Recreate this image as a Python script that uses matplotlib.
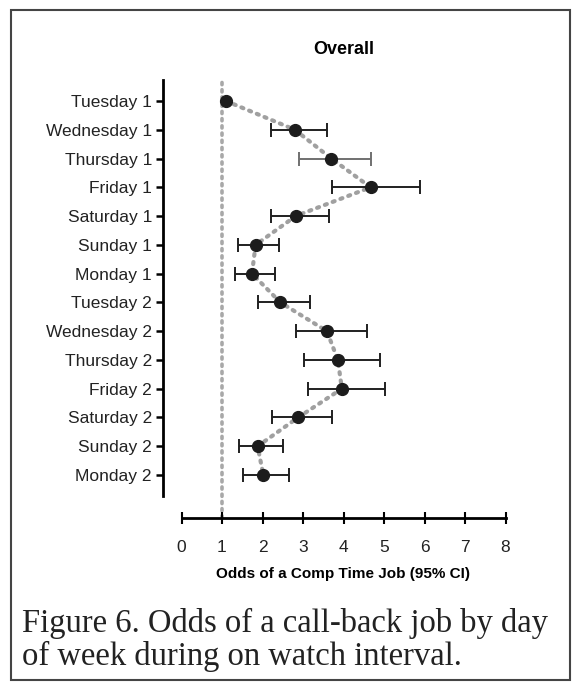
import matplotlib.pyplot as plt
from matplotlib.patches import Rectangle

days = ["Tuesday 1", "Wednesday 1", "Thursday 1", "Friday 1", "Saturday 1",
        "Sunday 1", "Monday 1", "Tuesday 2", "Wednesday 2", "Thursday 2",
        "Friday 2", "Saturday 2", "Sunday 2", "Monday 2"]
odds = [1.10, 2.80, 3.70, 4.67, 2.82, 1.83, 1.74,
        2.44, 3.59, 3.86, 3.96, 2.88, 1.88, 2.02]
ci_low = [1.10, 2.20, 2.91, 3.72, 2.20, 1.40, 1.32,
          1.90, 2.82, 3.03, 3.12, 2.24, 1.42, 1.52]
ci_high = [1.10, 3.59, 4.69, 5.90, 3.63, 2.41, 2.31,
           3.18, 4.58, 4.89, 5.03, 3.72, 2.51, 2.66]
xticks = [0, 1, 2, 3, 4, 5, 6, 7, 8]

W, H = 578, 683
fig = plt.figure(figsize=(W / 100, H / 100), dpi=100)
plt.rcParams['font.family'] = ['Liberation Sans', 'DejaVu Sans']

# axes placed in pixel terms to match the scan
x0_px, unit_px = 181.5, 40.5
left_px, top_px, bottom_px = 163, 80, 518
xmin = -(x0_px - left_px) / unit_px
xmax = 8.35
ax = fig.add_axes([left_px / W, (H - bottom_px) / H,
                   (xmax - xmin) * unit_px / W, (bottom_px - top_px) / H])

ypos = list(range(len(days)))

# reference line at odds = 1
ax.axvline(1, color='#a8a8a8', lw=2.6, ls=(0, (0.6, 1.4)),
           dash_capstyle='round', zorder=1)
# dotted path through the estimates
ax.plot(odds, ypos, color='#a0a0a0', lw=3, ls=(0, (0.5, 1.5)),
        dash_capstyle='round', zorder=2)

for i in range(len(days)):
    if ci_high[i] - ci_low[i] <= 0:
        continue
    c = '#707070' if days[i] == "Thursday 1" else '#202020'
    ax.errorbar(odds[i], ypos[i],
                xerr=[[odds[i] - ci_low[i]], [ci_high[i] - odds[i]]],
                fmt='none', ecolor=c, elinewidth=1.4, capsize=5,
                capthick=1.4, zorder=3)
ax.plot(odds, ypos, 'o', color='#1c1c1c', ms=8.5, zorder=4)

step = (475 - 101) / 13
ytop = -(101 - top_px) / step
ybot = 13 + (bottom_px - 475) / step
ax.set_ylim(ybot, ytop)
ax.set_xlim(xmin, xmax)

ax.set_yticks(ypos)
ax.set_yticklabels(days, fontsize=12.5, color='#222222')
ax.set_xticks(xticks)
ax.set_xticklabels([str(t) for t in xticks], fontsize=12.5, color='#222222')
ax.tick_params(axis='y', length=5, width=1.8, pad=3)
ax.tick_params(axis='x', direction='inout', length=9, width=1.5, pad=11)

for s in ['top', 'right']:
    ax.spines[s].set_visible(False)
ax.spines['left'].set_bounds(ytop, 13 + (496 - 475) / step)
ax.spines['left'].set_linewidth(2)
ax.spines['bottom'].set_bounds(0, 8)
ax.spines['bottom'].set_linewidth(2)

xc = (x0_px + 4 * unit_px - left_px) / ((xmax - xmin) * unit_px)
ax.set_title("Overall", fontsize=13, fontweight='bold', x=xc, pad=19)
ax.set_xlabel("Odds of a Comp Time Job (95% CI)", fontsize=11, fontweight='bold')
ax.xaxis.set_label_coords(xc, -(567 - bottom_px) / (bottom_px - top_px))

fig.text(22 / W, 1 - 623 / H, "Figure 6. Odds of a call-back job by day",
         family='Liberation Serif', fontsize=23.5, color='#222222', va='center')
fig.text(22 / W, 1 - 656 / H, "of week during on watch interval.",
         family='Liberation Serif', fontsize=23.5, color='#222222', va='center')

fig.patches.append(Rectangle((11 / W, 1 - 680 / H), 559 / W, 670 / H,
                             transform=fig.transFigure, fill=False,
                             edgecolor='#444444', lw=1.5))

fig.savefig('out.png', dpi=100)
